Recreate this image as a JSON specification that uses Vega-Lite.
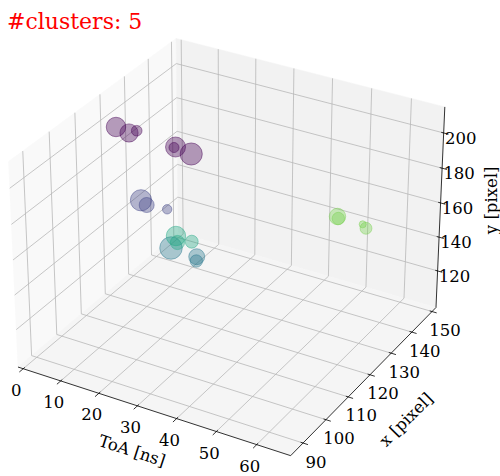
{
  "$schema": "https://vega.github.io/schema/vega-lite/v6.json",
  "width": 500,
  "height": 476,
  "autosize": "none",
  "padding": 0,
  "background": "white",
  "config": {"view": {"stroke": null}},
  "title": {"text": "#clusters: 5", "anchor": "start", "frame": "group", "orient": "top", "offset": -51, "baseline": "alphabetic", "dx": 7, "color": "#ff0000", "font": "DejaVu Serif", "fontSize": 22, "fontWeight": "normal"},
  "data": {"values": [
    {"kind": "pane", "pane": "xp", "i": 0, "toa": -1.4, "xpix": 84.7, "ypix": 98},
    {"kind": "pane", "pane": "xp", "i": 1, "toa": -1.4, "xpix": 152, "ypix": 98},
    {"kind": "pane", "pane": "xp", "i": 2, "toa": -1.4, "xpix": 152, "ypix": 214.6},
    {"kind": "pane", "pane": "xp", "i": 3, "toa": -1.4, "xpix": 84.7, "ypix": 214.6},
    {"kind": "pane", "pane": "yp", "i": 0, "toa": -1.4, "xpix": 152, "ypix": 98},
    {"kind": "pane", "pane": "yp", "i": 1, "toa": 68.3, "xpix": 152, "ypix": 98},
    {"kind": "pane", "pane": "yp", "i": 2, "toa": 68.3, "xpix": 152, "ypix": 214.6},
    {"kind": "pane", "pane": "yp", "i": 3, "toa": -1.4, "xpix": 152, "ypix": 214.6},
    {"kind": "pane", "pane": "zp", "i": 0, "toa": -1.4, "xpix": 84.7, "ypix": 98},
    {"kind": "pane", "pane": "zp", "i": 1, "toa": 68.3, "xpix": 84.7, "ypix": 98},
    {"kind": "pane", "pane": "zp", "i": 2, "toa": 68.3, "xpix": 152, "ypix": 98},
    {"kind": "pane", "pane": "zp", "i": 3, "toa": -1.4, "xpix": 152, "ypix": 98},

    {"kind": "grid", "toa": 0, "xpix": 84.7, "ypix": 98, "toa2": 0, "xpix2": 152, "ypix2": 98},
    {"kind": "grid", "toa": 10, "xpix": 84.7, "ypix": 98, "toa2": 10, "xpix2": 152, "ypix2": 98},
    {"kind": "grid", "toa": 20, "xpix": 84.7, "ypix": 98, "toa2": 20, "xpix2": 152, "ypix2": 98},
    {"kind": "grid", "toa": 30, "xpix": 84.7, "ypix": 98, "toa2": 30, "xpix2": 152, "ypix2": 98},
    {"kind": "grid", "toa": 40, "xpix": 84.7, "ypix": 98, "toa2": 40, "xpix2": 152, "ypix2": 98},
    {"kind": "grid", "toa": 50, "xpix": 84.7, "ypix": 98, "toa2": 50, "xpix2": 152, "ypix2": 98},
    {"kind": "grid", "toa": 60, "xpix": 84.7, "ypix": 98, "toa2": 60, "xpix2": 152, "ypix2": 98},
    {"kind": "grid", "toa": 0, "xpix": 152, "ypix": 98, "toa2": 0, "xpix2": 152, "ypix2": 214.6},
    {"kind": "grid", "toa": 10, "xpix": 152, "ypix": 98, "toa2": 10, "xpix2": 152, "ypix2": 214.6},
    {"kind": "grid", "toa": 20, "xpix": 152, "ypix": 98, "toa2": 20, "xpix2": 152, "ypix2": 214.6},
    {"kind": "grid", "toa": 30, "xpix": 152, "ypix": 98, "toa2": 30, "xpix2": 152, "ypix2": 214.6},
    {"kind": "grid", "toa": 40, "xpix": 152, "ypix": 98, "toa2": 40, "xpix2": 152, "ypix2": 214.6},
    {"kind": "grid", "toa": 50, "xpix": 152, "ypix": 98, "toa2": 50, "xpix2": 152, "ypix2": 214.6},
    {"kind": "grid", "toa": 60, "xpix": 152, "ypix": 98, "toa2": 60, "xpix2": 152, "ypix2": 214.6},
    {"kind": "grid", "toa": -1.4, "xpix": 90, "ypix": 98, "toa2": 68.3, "xpix2": 90, "ypix2": 98},
    {"kind": "grid", "toa": -1.4, "xpix": 100, "ypix": 98, "toa2": 68.3, "xpix2": 100, "ypix2": 98},
    {"kind": "grid", "toa": -1.4, "xpix": 110, "ypix": 98, "toa2": 68.3, "xpix2": 110, "ypix2": 98},
    {"kind": "grid", "toa": -1.4, "xpix": 120, "ypix": 98, "toa2": 68.3, "xpix2": 120, "ypix2": 98},
    {"kind": "grid", "toa": -1.4, "xpix": 130, "ypix": 98, "toa2": 68.3, "xpix2": 130, "ypix2": 98},
    {"kind": "grid", "toa": -1.4, "xpix": 140, "ypix": 98, "toa2": 68.3, "xpix2": 140, "ypix2": 98},
    {"kind": "grid", "toa": -1.4, "xpix": 150, "ypix": 98, "toa2": 68.3, "xpix2": 150, "ypix2": 98},
    {"kind": "grid", "toa": -1.4, "xpix": 90, "ypix": 98, "toa2": -1.4, "xpix2": 90, "ypix2": 214.6},
    {"kind": "grid", "toa": -1.4, "xpix": 100, "ypix": 98, "toa2": -1.4, "xpix2": 100, "ypix2": 214.6},
    {"kind": "grid", "toa": -1.4, "xpix": 110, "ypix": 98, "toa2": -1.4, "xpix2": 110, "ypix2": 214.6},
    {"kind": "grid", "toa": -1.4, "xpix": 120, "ypix": 98, "toa2": -1.4, "xpix2": 120, "ypix2": 214.6},
    {"kind": "grid", "toa": -1.4, "xpix": 130, "ypix": 98, "toa2": -1.4, "xpix2": 130, "ypix2": 214.6},
    {"kind": "grid", "toa": -1.4, "xpix": 140, "ypix": 98, "toa2": -1.4, "xpix2": 140, "ypix2": 214.6},
    {"kind": "grid", "toa": -1.4, "xpix": 150, "ypix": 98, "toa2": -1.4, "xpix2": 150, "ypix2": 214.6},
    {"kind": "grid", "toa": -1.4, "xpix": 84.7, "ypix": 120, "toa2": -1.4, "xpix2": 152, "ypix2": 120},
    {"kind": "grid", "toa": -1.4, "xpix": 84.7, "ypix": 140, "toa2": -1.4, "xpix2": 152, "ypix2": 140},
    {"kind": "grid", "toa": -1.4, "xpix": 84.7, "ypix": 160, "toa2": -1.4, "xpix2": 152, "ypix2": 160},
    {"kind": "grid", "toa": -1.4, "xpix": 84.7, "ypix": 180, "toa2": -1.4, "xpix2": 152, "ypix2": 180},
    {"kind": "grid", "toa": -1.4, "xpix": 84.7, "ypix": 200, "toa2": -1.4, "xpix2": 152, "ypix2": 200},
    {"kind": "grid", "toa": -1.4, "xpix": 152, "ypix": 120, "toa2": 68.3, "xpix2": 152, "ypix2": 120},
    {"kind": "grid", "toa": -1.4, "xpix": 152, "ypix": 140, "toa2": 68.3, "xpix2": 152, "ypix2": 140},
    {"kind": "grid", "toa": -1.4, "xpix": 152, "ypix": 160, "toa2": 68.3, "xpix2": 152, "ypix2": 160},
    {"kind": "grid", "toa": -1.4, "xpix": 152, "ypix": 180, "toa2": 68.3, "xpix2": 152, "ypix2": 180},
    {"kind": "grid", "toa": -1.4, "xpix": 152, "ypix": 200, "toa2": 68.3, "xpix2": 152, "ypix2": 200},

    {"kind": "axis", "toa": -1.4, "xpix": 84.7, "ypix": 98, "toa2": 68.3, "xpix2": 84.7, "ypix2": 98},
    {"kind": "axis", "toa": 68.3, "xpix": 84.7, "ypix": 98, "toa2": 68.3, "xpix2": 152, "ypix2": 98},
    {"kind": "axis", "toa": 68.3, "xpix": 152, "ypix": 98, "toa2": 68.3, "xpix2": 152, "ypix2": 214.6},

    {"kind": "tick", "toa": 0, "xpix": 85.3, "ypix": 98, "toa2": 0, "xpix2": 83.2, "ypix2": 98},
    {"kind": "tick", "toa": 10, "xpix": 85.3, "ypix": 98, "toa2": 10, "xpix2": 83.2, "ypix2": 98},
    {"kind": "tick", "toa": 20, "xpix": 85.3, "ypix": 98, "toa2": 20, "xpix2": 83.2, "ypix2": 98},
    {"kind": "tick", "toa": 30, "xpix": 85.3, "ypix": 98, "toa2": 30, "xpix2": 83.2, "ypix2": 98},
    {"kind": "tick", "toa": 40, "xpix": 85.3, "ypix": 98, "toa2": 40, "xpix2": 83.2, "ypix2": 98},
    {"kind": "tick", "toa": 50, "xpix": 85.3, "ypix": 98, "toa2": 50, "xpix2": 83.2, "ypix2": 98},
    {"kind": "tick", "toa": 60, "xpix": 85.3, "ypix": 98, "toa2": 60, "xpix2": 83.2, "ypix2": 98},
    {"kind": "tick", "toa": 67.7, "xpix": 90, "ypix": 98, "toa2": 69.5, "xpix2": 90, "ypix2": 98},
    {"kind": "tick", "toa": 67.7, "xpix": 100, "ypix": 98, "toa2": 69.5, "xpix2": 100, "ypix2": 98},
    {"kind": "tick", "toa": 67.7, "xpix": 110, "ypix": 98, "toa2": 69.5, "xpix2": 110, "ypix2": 98},
    {"kind": "tick", "toa": 67.7, "xpix": 120, "ypix": 98, "toa2": 69.5, "xpix2": 120, "ypix2": 98},
    {"kind": "tick", "toa": 67.7, "xpix": 130, "ypix": 98, "toa2": 69.5, "xpix2": 130, "ypix2": 98},
    {"kind": "tick", "toa": 67.7, "xpix": 140, "ypix": 98, "toa2": 69.5, "xpix2": 140, "ypix2": 98},
    {"kind": "tick", "toa": 67.7, "xpix": 150, "ypix": 98, "toa2": 69.5, "xpix2": 150, "ypix2": 98},
    {"kind": "tick", "toa": 67.7, "xpix": 152, "ypix": 120, "toa2": 69.5, "xpix2": 152, "ypix2": 120},
    {"kind": "tick", "toa": 67.7, "xpix": 152, "ypix": 140, "toa2": 69.5, "xpix2": 152, "ypix2": 140},
    {"kind": "tick", "toa": 67.7, "xpix": 152, "ypix": 160, "toa2": 69.5, "xpix2": 152, "ypix2": 160},
    {"kind": "tick", "toa": 67.7, "xpix": 152, "ypix": 180, "toa2": 69.5, "xpix2": 152, "ypix2": 180},
    {"kind": "tick", "toa": 67.7, "xpix": 152, "ypix": 200, "toa2": 69.5, "xpix2": 152, "ypix2": 200},

    {"kind": "lab", "ax": "T", "label": "0", "toa": 0, "xpix": 84.7, "ypix": 98},
    {"kind": "lab", "ax": "T", "label": "10", "toa": 10, "xpix": 84.7, "ypix": 98},
    {"kind": "lab", "ax": "T", "label": "20", "toa": 20, "xpix": 84.7, "ypix": 98},
    {"kind": "lab", "ax": "T", "label": "30", "toa": 30, "xpix": 84.7, "ypix": 98},
    {"kind": "lab", "ax": "T", "label": "40", "toa": 40, "xpix": 84.7, "ypix": 98},
    {"kind": "lab", "ax": "T", "label": "50", "toa": 50, "xpix": 84.7, "ypix": 98},
    {"kind": "lab", "ax": "T", "label": "60", "toa": 60, "xpix": 84.7, "ypix": 98},
    {"kind": "lab", "ax": "X", "label": "90", "toa": 68.3, "xpix": 90, "ypix": 98},
    {"kind": "lab", "ax": "X", "label": "100", "toa": 68.3, "xpix": 100, "ypix": 98},
    {"kind": "lab", "ax": "X", "label": "110", "toa": 68.3, "xpix": 110, "ypix": 98},
    {"kind": "lab", "ax": "X", "label": "120", "toa": 68.3, "xpix": 120, "ypix": 98},
    {"kind": "lab", "ax": "X", "label": "130", "toa": 68.3, "xpix": 130, "ypix": 98},
    {"kind": "lab", "ax": "X", "label": "140", "toa": 68.3, "xpix": 140, "ypix": 98},
    {"kind": "lab", "ax": "X", "label": "150", "toa": 68.3, "xpix": 150, "ypix": 98},
    {"kind": "lab", "ax": "Y", "label": "120", "toa": 68.3, "xpix": 152, "ypix": 120},
    {"kind": "lab", "ax": "Y", "label": "140", "toa": 68.3, "xpix": 152, "ypix": 140},
    {"kind": "lab", "ax": "Y", "label": "160", "toa": 68.3, "xpix": 152, "ypix": 160},
    {"kind": "lab", "ax": "Y", "label": "180", "toa": 68.3, "xpix": 152, "ypix": 180},
    {"kind": "lab", "ax": "Y", "label": "200", "toa": 68.3, "xpix": 152, "ypix": 200},

    {"kind": "ttl", "ax": "T", "label": "ToA [ns]", "toa": 33.45, "xpix": 84.7, "ypix": 98},
    {"kind": "ttl", "ax": "X", "label": "x [pixel]", "toa": 68.3, "xpix": 118.35, "ypix": 98},
    {"kind": "ttl", "ax": "Y", "label": "y [pixel]", "toa": 68.3, "xpix": 152, "ypix": 156.3},

    {"kind": "pt", "cluster": "0", "toa": 5.13, "xpix": 116.30, "ypix": 203.87, "tot": 242},
    {"kind": "pt", "cluster": "0", "toa": 7.98, "xpix": 117.14, "ypix": 201.28, "tot": 212},
    {"kind": "pt", "cluster": "0", "toa": 9.34, "xpix": 118.18, "ypix": 202.27, "tot": 72},
    {"kind": "pt", "cluster": "0", "toa": 17.75, "xpix": 120.84, "ypix": 195.25, "tot": 255},
    {"kind": "pt", "cluster": "0", "toa": 17.49, "xpix": 120.62, "ypix": 195.04, "tot": 65},
    {"kind": "pt", "cluster": "0", "toa": 21.17, "xpix": 121.88, "ypix": 192.23, "tot": 312},
    {"kind": "pt", "cluster": "1", "toa": 14.05, "xpix": 112.15, "ypix": 172.29, "tot": 288},
    {"kind": "pt", "cluster": "1", "toa": 15.41, "xpix": 112.32, "ypix": 170.26, "tot": 144},
    {"kind": "pt", "cluster": "1", "toa": 19.61, "xpix": 114.13, "ypix": 168.41, "tot": 56},
    {"kind": "pt", "cluster": "2", "toa": 22.51, "xpix": 110.93, "ypix": 151.73, "tot": 323},
    {"kind": "pt", "cluster": "2", "toa": 27.96, "xpix": 112.89, "ypix": 147.98, "tot": 162},
    {"kind": "pt", "cluster": "2", "toa": 28.12, "xpix": 112.45, "ypix": 146.13, "tot": 98},
    {"kind": "pt", "cluster": "3", "toa": 22.80, "xpix": 112.59, "ypix": 156.90, "tot": 242},
    {"kind": "pt", "cluster": "3", "toa": 23.45, "xpix": 112.14, "ypix": 154.10, "tot": 128},
    {"kind": "pt", "cluster": "3", "toa": 26.16, "xpix": 113.75, "ypix": 154.45, "tot": 107},
    {"kind": "pt", "cluster": "4", "toa": 52.91, "xpix": 131.80, "ypix": 165.31, "tot": 173},
    {"kind": "pt", "cluster": "4", "toa": 53.19, "xpix": 131.70, "ypix": 164.44, "tot": 98},
    {"kind": "pt", "cluster": "4", "toa": 59.08, "xpix": 133.77, "ypix": 160.22, "tot": 90},
    {"kind": "pt", "cluster": "4", "toa": 58.22, "xpix": 133.78, "ypix": 161.94, "tot": 32}
  ]},
  "transform": [
    {"calculate": "(datum.toa - 33.45) / 69.7 * 1.142857", "as": "s"},
    {"calculate": "(datum.xpix - 118.35) / 67.3 * 1.142857", "as": "r"},
    {"calculate": "(datum.ypix - 156.3) / 116.6 * 0.857143", "as": "t"},
    {"calculate": "10 - 0.4330127 * datum.s + 0.75 * datum.r - 0.5 * datum.t", "as": "D"},
    {"calculate": "(0.8660254 * datum.s + 0.5 * datum.r) / datum.D", "as": "px"},
    {"calculate": "(-0.25 * datum.s + 0.4330127 * datum.r + 0.8660254 * datum.t) / datum.D", "as": "py"},
    {"calculate": "(datum.toa2 - 33.45) / 69.7 * 1.142857", "as": "s2"},
    {"calculate": "(datum.xpix2 - 118.35) / 67.3 * 1.142857", "as": "r2"},
    {"calculate": "(datum.ypix2 - 156.3) / 116.6 * 0.857143", "as": "t2"},
    {"calculate": "10 - 0.4330127 * datum.s2 + 0.75 * datum.r2 - 0.5 * datum.t2", "as": "D2"},
    {"calculate": "(0.8660254 * datum.s2 + 0.5 * datum.r2) / datum.D2", "as": "px2"},
    {"calculate": "(-0.25 * datum.s2 + 0.4330127 * datum.r2 + 0.8660254 * datum.t2) / datum.D2", "as": "py2"}
  ],
  "encoding": {
    "x": {"field": "px", "type": "quantitative", "scale": {"domain": [-0.084382, 0.0985], "nice": false, "zero": false}, "axis": null},
    "y": {"field": "py", "type": "quantitative", "scale": {"domain": [-0.087271, 0.086833], "nice": false, "zero": false}, "axis": null}
  },
  "layer": [
    {"transform": [{"filter": "datum.kind == 'pane' && datum.pane == 'xp'"}],
     "mark": {"type": "line", "interpolate": "linear-closed", "fill": "#f9f9f9", "stroke": "#f9f9f9", "strokeWidth": 0.5},
     "encoding": {"order": {"field": "i", "type": "quantitative"}}},
    {"transform": [{"filter": "datum.kind == 'pane' && datum.pane == 'yp'"}],
     "mark": {"type": "line", "interpolate": "linear-closed", "fill": "#f2f2f2", "stroke": "#f2f2f2", "strokeWidth": 0.5},
     "encoding": {"order": {"field": "i", "type": "quantitative"}}},
    {"transform": [{"filter": "datum.kind == 'pane' && datum.pane == 'zp'"}],
     "mark": {"type": "line", "interpolate": "linear-closed", "fill": "#f5f5f5", "stroke": "#f5f5f5", "strokeWidth": 0.5},
     "encoding": {"order": {"field": "i", "type": "quantitative"}}},
    {"transform": [{"filter": "datum.kind == 'grid'"}],
     "mark": {"type": "rule", "color": "#b8b8b8", "strokeWidth": 0.8},
     "encoding": {"x2": {"field": "px2"}, "y2": {"field": "py2"}}},
    {"transform": [{"filter": "datum.kind == 'axis' || datum.kind == 'tick'"}],
     "mark": {"type": "rule", "color": "#000000", "strokeWidth": 0.8},
     "encoding": {"x2": {"field": "px2"}, "y2": {"field": "py2"}}},
    {"transform": [{"filter": "datum.kind == 'lab' && datum.ax == 'T'"}],
     "mark": {"type": "text", "font": "DejaVu Serif", "fontSize": 16.5, "dx": -7, "dy": 22, "align": "center", "baseline": "middle", "color": "#000000"},
     "encoding": {"text": {"field": "label"}}},
    {"transform": [{"filter": "datum.kind == 'lab' && datum.ax == 'X'"}],
     "mark": {"type": "text", "font": "DejaVu Serif", "fontSize": 16.5, "dx": 13, "dy": 19.5, "align": "center", "baseline": "middle", "color": "#000000"},
     "encoding": {"text": {"field": "label"}}},
    {"transform": [{"filter": "datum.kind == 'lab' && datum.ax == 'Y'"}],
     "mark": {"type": "text", "font": "DejaVu Serif", "fontSize": 16.5, "dx": 17, "dy": 6, "align": "center", "baseline": "middle", "color": "#000000"},
     "encoding": {"text": {"field": "label"}}},
    {"transform": [{"filter": "datum.kind == 'ttl' && datum.ax == 'T'"}],
     "mark": {"type": "text", "font": "DejaVu Serif", "fontSize": 16.5, "dx": -5.4, "dy": 44.9, "angle": 18, "align": "center", "baseline": "middle", "color": "#000000"},
     "encoding": {"text": {"field": "label"}}},
    {"transform": [{"filter": "datum.kind == 'ttl' && datum.ax == 'X'"}],
     "mark": {"type": "text", "font": "DejaVu Serif", "fontSize": 16.5, "dx": -1, "dy": 57.8, "angle": 315, "align": "center", "baseline": "middle", "color": "#000000"},
     "encoding": {"text": {"field": "label"}}},
    {"transform": [{"filter": "datum.kind == 'ttl' && datum.ax == 'Y'"}],
     "mark": {"type": "text", "font": "DejaVu Serif", "fontSize": 16.5, "dx": 9, "dy": 52, "angle": 270, "align": "center", "baseline": "middle", "color": "#000000"},
     "encoding": {"text": {"field": "label"}}},
    {"transform": [{"filter": "datum.kind == 'pt'"}],
     "mark": {"type": "circle", "fillOpacity": 0.38, "strokeOpacity": 0.45, "strokeWidth": 1},
     "encoding": {
       "color": {"field": "cluster", "type": "nominal", "scale": {"domain": ["0", "1", "2", "3", "4"], "range": ["#440154", "#414487", "#2a788e", "#22a884", "#7ad151"]}, "legend": null},
       "stroke": {"field": "cluster", "type": "nominal", "scale": {"domain": ["0", "1", "2", "3", "4"], "range": ["#440154", "#414487", "#2a788e", "#22a884", "#7ad151"]}, "legend": null},
       "size": {"field": "tot", "type": "quantitative", "scale": {"domain": [0, 400], "range": [0, 628.3]}, "legend": null}
     }}
  ]
}
